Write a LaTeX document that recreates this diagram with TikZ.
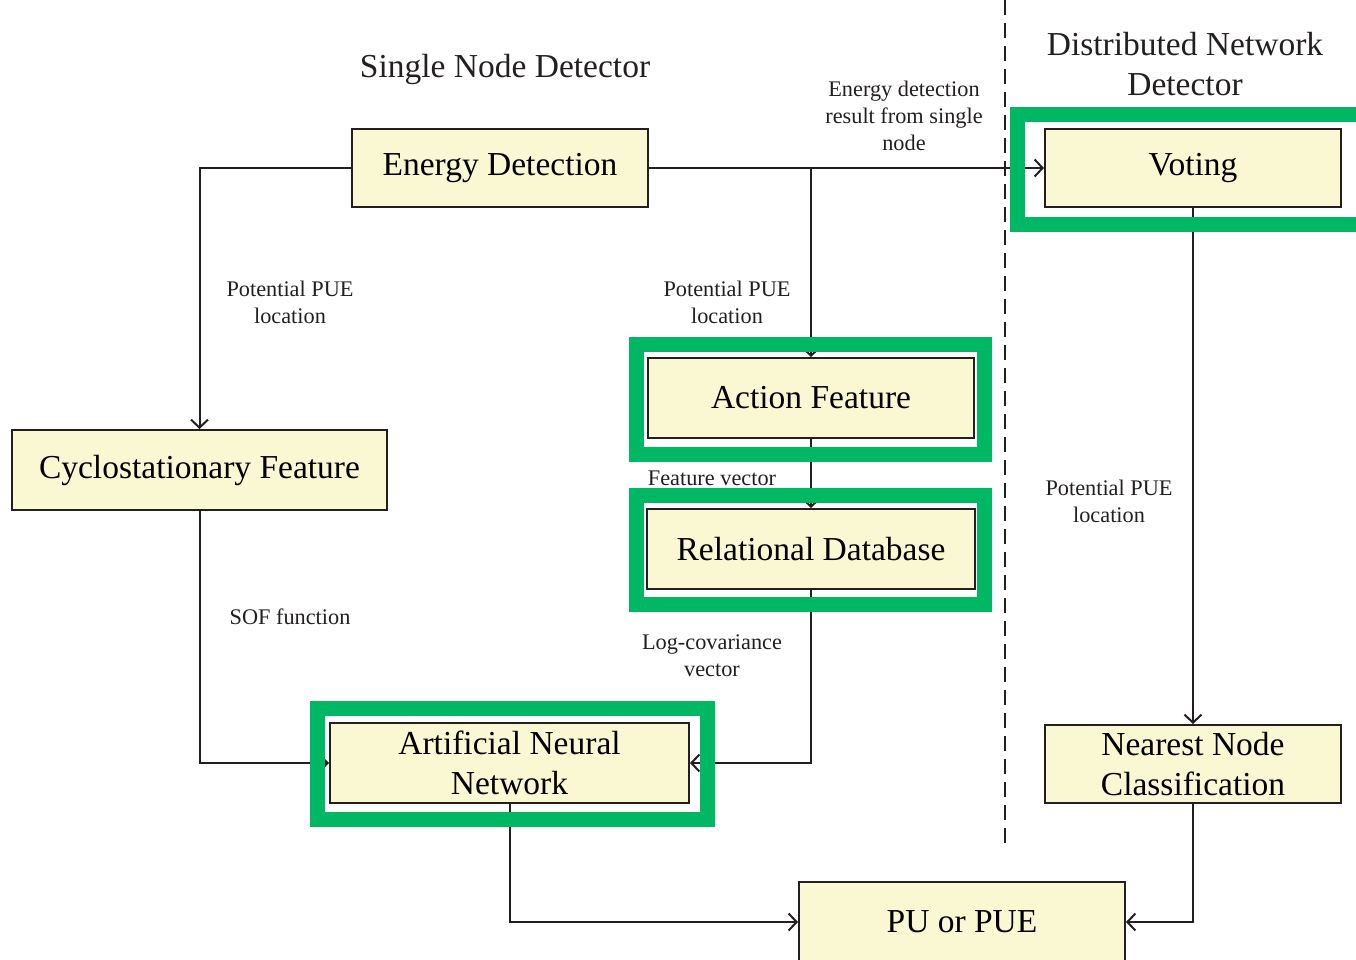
\documentclass[tikz,border=0pt]{standalone}
\usepackage{fontspec}
\setmainfont{Liberation Serif}
\usetikzlibrary{arrows.meta}
\definecolor{boxfill}{RGB}{250,248,210}
\definecolor{hlgreen}{RGB}{0,184,100}
\definecolor{ink}{RGB}{35,31,32}
\begin{document}
\begin{tikzpicture}[x=1pt,y=-1pt,
  blk/.style={draw=ink, line width=2pt, fill=boxfill, minimum width=#1,
    minimum height=78pt, inner sep=0pt, align=center,
    font=\fontsize{33.5}{40}\selectfont},
  lbl/.style={inner sep=0pt, align=center, font=\fontsize{22.3}{27}\selectfont, text=ink},
  ttl/.style={inner sep=0pt, align=center, font=\fontsize{33.5}{40}\selectfont, text=ink},
  conn/.style={draw=ink, line width=2pt, -{Straight Barb[length=8pt,width=17pt,line width=2pt]}},
  hl/.style={draw=hlgreen, line width=15pt}
]
\path[use as bounding box, clip] (0,0) rectangle (1356,960);

% titles
\node[ttl] (tsingle) at (505,69) {Single Node Detector};
\node[ttl] (tdist) at (1185,64) {Distributed Network\\Detector};

% separator between single node and network parts
\coordinate (dtop) at (1005,0);
\coordinate (dbot) at (1005,843);
\draw[ink, line width=2pt, dash pattern=on 15pt off 8pt] (dtop) -- (dbot);

% blocks
\node[blk=296pt] (ed)  at (500,168)   {Energy Detection};
\node[blk=296pt] (vot) at (1193,168)  {Voting};
\node[blk=326pt, minimum height=80pt] (act) at (811,398) {Action Feature};
\node[blk=328pt, minimum height=80pt] (rdb) at (811,549) {Relational Database};
\node[blk=375pt, minimum height=80pt] (cyc) at (199.5,470) {Cyclostationary Feature};
\node[blk=359pt, minimum height=80pt] (ann) at (509.5,763) {Artificial Neural\\Network};
\node[blk=296pt] (nn)  at (1193,764)  {Nearest Node\\Classification};
\node[blk=326pt, minimum height=80pt] (pu) at (962,922) {PU or PUE};

% connectors
\draw[conn] (ed.west) -| (cyc.north);
\draw[conn] (ed.east) -- (vot.west);
\draw[conn] (ed.east -| act.north) -- (act.north);
\draw[conn] (act.south) -- (rdb.north);
\draw[conn] (rdb.south) |- (ann.east);
\draw[conn] (cyc.south) |- (ann.west);
\draw[conn] (ann.south) |- (pu.west);
\draw[conn] (vot.south) -- (nn.north);
\draw[conn] (nn.south) |- (pu.east);

% connector labels
\node[lbl] (l1) at (290,302) {Potential PUE\\location};
\node[lbl] (l2) at (727,302) {Potential PUE\\location};
\node[lbl] (l3) at (1109,501) {Potential PUE\\location};
\node[lbl] (l4) at (904,116) {Energy detection\\result from single\\node};
\node[lbl] (l5) at (712,478) {Feature vector};
\node[lbl] (l6) at (712,656) {Log-covariance\\vector};
\node[lbl] (l7) at (290,617) {SOF function};

% highlight frames
\draw[hl] (1017.5,114.5) rectangle (1375,224.5);
\draw[hl] (636,344) rectangle (984,454);
\draw[hl] (636,495) rectangle (984,604.5);
\draw[hl] (317,708) rectangle (707,819);
\end{tikzpicture}
\end{document}
